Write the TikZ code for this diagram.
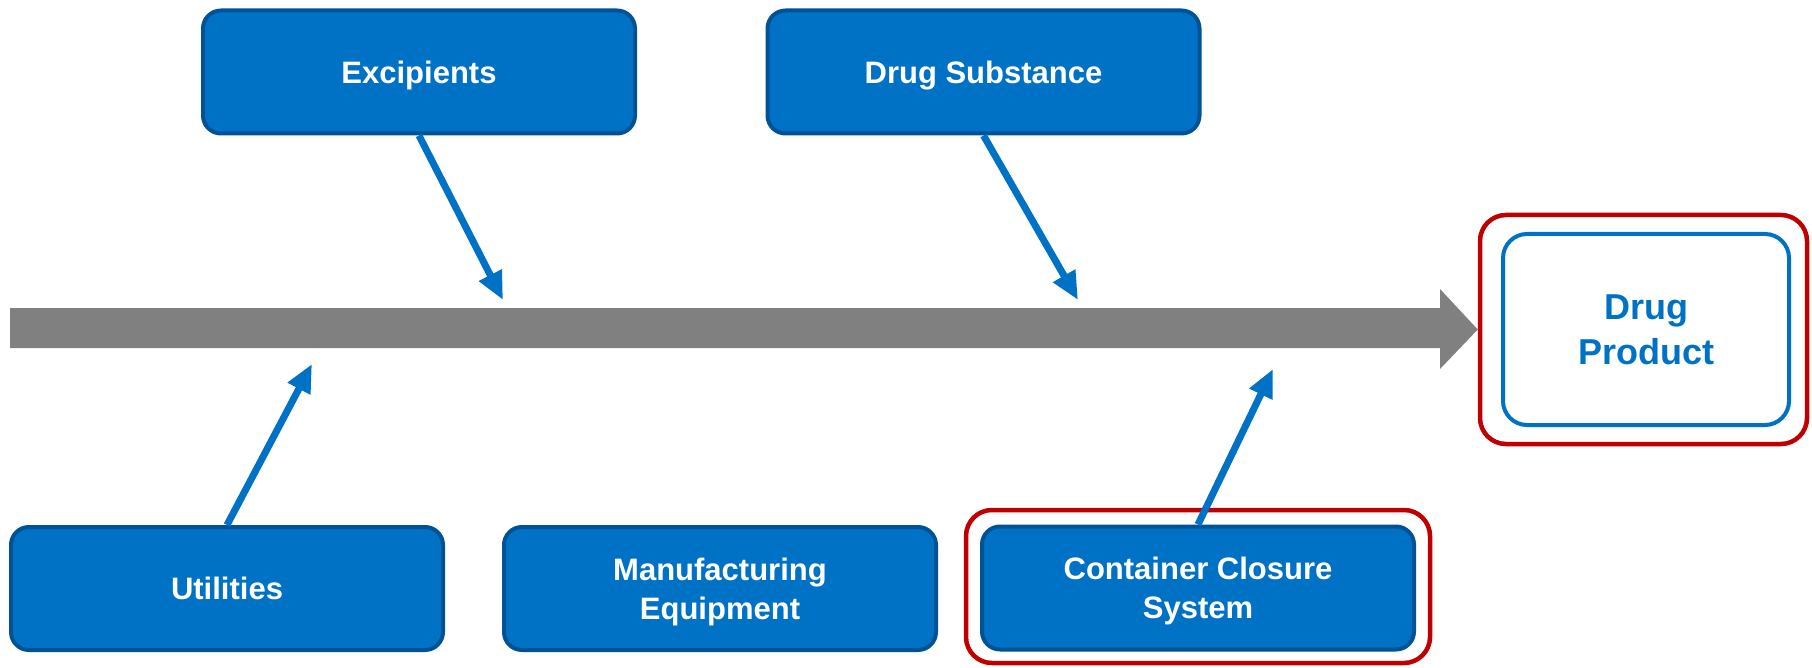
\documentclass[tikz,border=0pt]{standalone}
\usepackage{fontspec}
\setmainfont{Liberation Sans}
\usetikzlibrary{arrows.meta}
\definecolor{boxfill}{RGB}{0,114,198}
\definecolor{boxline}{RGB}{0,82,150}
\definecolor{dpred}{RGB}{192,0,0}
\definecolor{spinegray}{RGB}{128,128,128}
\definecolor{dpblue}{RGB}{0,114,198}
\tikzset{
  bluebox/.style={draw=boxline, fill=boxfill, line width=4pt, rounded corners=18pt,
    minimum width=432pt, minimum height=123pt, inner sep=0pt, align=center, text depth=0pt,
    text=white, font=\fontsize{31}{39}\selectfont\bfseries},
  redframe/.style={draw=dpred, line width=4.5pt, rounded corners=26pt, inner sep=0pt},
  feed/.style={draw=boxfill, line width=7pt, -{Triangle[length=28pt,width=24pt]}}
}
\begin{document}
\begin{tikzpicture}[x=1pt,y=-1pt]
\useasboundingbox (0,0) rectangle (1812,668);
% boxes
\node[bluebox] (ex) at (419,72) {Excipients};
\node[bluebox] (ds) at (983.5,72) {Drug Substance};
\node[bluebox] (ut) at (227,588.5) {Utilities};
\node[bluebox] (me) at (720,588.5) {Manufacturing\\Equipment};
\node[redframe, minimum width=464pt, minimum height=153pt] (ccsframe) at (1198,586.5) {};
\node[bluebox] (ccs) at (1198,588) {Container Closure\\System};
% drug product
\node[redframe, minimum width=327pt, minimum height=229pt] (dpframe) at (1643.5,329.5) {};
\node[draw=dpblue, line width=4pt, rounded corners=24pt, minimum width=286pt, minimum height=191pt,
  inner sep=0pt, align=center, text depth=0pt, text=dpblue, font=\fontsize{36}{45}\selectfont\bfseries]
  (dp) at (1646,329.5) {Drug\\Product};
% spine
\fill[spinegray] (10,308) -- (1440,308) -- (1440,289) -- (dpframe.west) -- (1440,369) -- (1440,348) -- (10,348) -- cycle;
% feeding arrows
\coordinate (exTip) at (503,300);
\coordinate (dsTip) at (1078,300);
\coordinate (utTip) at (312,364);
\coordinate (ccsTip) at (1273,369);
\draw[feed] (ex.south) -- (exTip);
\draw[feed] (ds.south) -- (dsTip);
\draw[feed] (ut.north) -- (utTip);
\draw[feed] (ccs.north) -- (ccsTip);
\end{tikzpicture}
\end{document}
